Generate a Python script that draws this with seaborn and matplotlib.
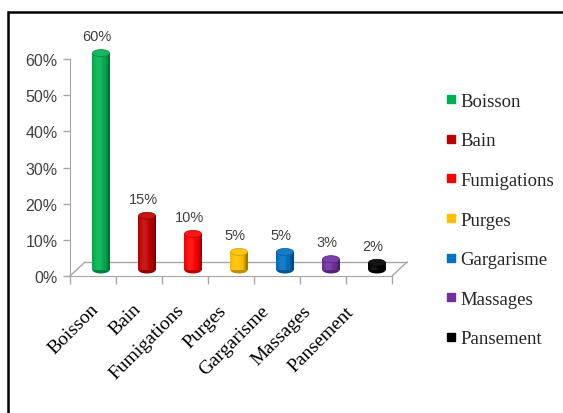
"""Usage of traditional remedies by mode of preparation (3D-like cylinder bars)."""

import matplotlib
matplotlib.use("Agg")
import matplotlib.pyplot as plt
from matplotlib.lines import Line2D
from matplotlib.patches import Ellipse, Rectangle
from matplotlib.transforms import ScaledTranslation
import numpy as np
import pandas as pd
import seaborn as sns

categories = ["Boisson", "Bain", "Fumigations", "Purges", "Gargarisme", "Massages", "Pansement"]
values = [0.60, 0.15, 0.10, 0.05, 0.05, 0.03, 0.02]
labels = ["60%", "15%", "10%", "5%", "5%", "3%", "2%"]
colors = ["#00B050", "#C00000", "#FF0000", "#FFC000", "#0070C0", "#7030A0", "#000000"]
yticks = [0, 0.1, 0.2, 0.3, 0.4, 0.5, 0.6]
ytick_labels = ["0%", "10%", "20%", "30%", "40%", "50%", "60%"]


def shade(c, f):
    """f > 0 lightens towards white, f < 0 darkens towards black."""
    rgb = np.array(matplotlib.colors.to_rgb(c))
    if f >= 0:
        return tuple(rgb + (1 - rgb) * f)
    return tuple(rgb * (1 + f))


def main() -> None:
    sns.set_style("white")
    plt.rcParams["font.family"] = ["Liberation Serif", "DejaVu Serif"]
    sans = ["Liberation Sans Narrow", "Liberation Sans", "DejaVu Sans"]

    df = pd.DataFrame({"cat": categories, "val": values})

    fig = plt.figure(figsize=(5.63, 4.14), dpi=100)
    ax = fig.add_axes([70 / 563, 137 / 414, 322 / 563, 235 / 414])

    sns.barplot(data=df, x="cat", y="val", hue="cat", palette=colors,
                width=0.37, legend=False, saturation=1, ax=ax)

    ax.set_xlim(-0.5, 6.5)
    ax.set_ylim(0, 0.65)

    # shift bars to the middle of the floor depth
    px = 1 / 100
    bar_off = ax.transData + ScaledTranslation(8 * px, 6 * px, fig.dpi_scale_trans)
    lab_off = ax.transData + ScaledTranslation(4 * px, 23 * px, fig.dpi_scale_trans)
    cap_h = 7 / 361.7
    nstrip = 14
    for patch, color, lab in zip(ax.patches, colors, labels):
        patch.set_transform(bar_off)
        patch.set_edgecolor("none")
        x0, w, h = patch.get_x(), patch.get_width(), patch.get_height()
        xc = x0 + w / 2
        # bottom cap
        ax.add_patch(Ellipse((xc, 0), w, cap_h, transform=bar_off,
                             facecolor=shade(color, -0.25), edgecolor="none", zorder=2))
        # cylinder body shading, strip by strip
        for k in range(nstrip):
            t = (k + 0.5) / nstrip
            f = 0.22 * np.cos((t - 0.35) * np.pi * 1.1) - 0.12
            if t > 0.8:
                f -= 0.15 * (t - 0.8) / 0.2
            ax.add_patch(Rectangle((x0 + w * k / nstrip, 0), w / nstrip * 1.05, h,
                                   transform=bar_off, facecolor=shade(color, f),
                                   edgecolor="none", zorder=3))
        # top cap
        ax.add_patch(Ellipse((xc, h), w, cap_h, transform=bar_off,
                             facecolor=shade(color, 0.08), edgecolor=shade(color, -0.2),
                             lw=0.5, zorder=4))
        ax.text(xc, h, lab, transform=lab_off, ha="center", va="center",
                fontsize=10.5, color="#404040", family=sans)

    # floor
    floor_off = ax.transData + ScaledTranslation(15 * px, 14 * px, fig.dpi_scale_trans)
    gray = "#A6A6A6"
    ax.plot([-0.5, 6.5], [0, 0], color=gray, lw=1, transform=floor_off, clip_on=False, zorder=1)
    for xe in (-0.5, 6.5):
        p0 = ax.transData.transform((xe, 0))
        p1 = floor_off.transform((xe, 0))
        fig.add_artist(Line2D([p0[0] / fig.bbox.width, p1[0] / fig.bbox.width],
                              [p0[1] / fig.bbox.height, p1[1] / fig.bbox.height],
                              color=gray, lw=1))

    for s in ("top", "right"):
        ax.spines[s].set_visible(False)
    ax.spines["left"].set_bounds(0, 0.6)
    ax.spines["left"].set_color(gray)
    ax.spines["bottom"].set_color(gray)

    ax.set_yticks(yticks)
    ax.set_yticklabels(ytick_labels, family=sans, fontsize=11.5, color="#404040")
    ax.tick_params(axis="y", left=True, length=5, width=1, color=gray, pad=4)

    ax.set_xticks(range(len(categories)))
    ax.set_xticks([i - 0.5 for i in range(len(categories) + 1)], minor=True)
    ax.tick_params(axis="x", which="major", length=0, pad=17)
    ax.tick_params(axis="x", which="minor", bottom=True, length=6, width=1, color=gray)
    ax.set_xticklabels(categories, rotation=45, ha="right", rotation_mode="anchor",
                       fontsize=14, color="black")
    # perspective: labels drift slightly left towards the right end
    for i, t in enumerate(ax.get_xticklabels()):
        t.set_transform(t.get_transform()
                        + ScaledTranslation((-3 - 3.5 * i) * px, -0.5 * i * px,
                                            fig.dpi_scale_trans))
    ax.set_xlabel("")
    ax.set_ylabel("")

    handles = [Line2D([], [], marker="s", linestyle="none", markersize=6,
                      markerfacecolor=c, markeredgecolor=c) for c in colors]
    fig.legend(handles, categories, loc="upper left",
               bbox_to_anchor=(438 / 563, (414 - 86) / 414), frameon=False,
               fontsize=13.5, labelspacing=1.2, handlelength=0.6,
               handletextpad=0.2, borderaxespad=0)

    # outer frame (cropped at the right and bottom)
    fig.add_artist(Rectangle((8 / 563, -0.1), 2, (414 - 13) / 414 + 0.1,
                             transform=fig.transFigure, fill=False,
                             edgecolor="black", lw=1.8))

    fig.savefig("out.png", dpi=100)


if __name__ == "__main__":
    main()
